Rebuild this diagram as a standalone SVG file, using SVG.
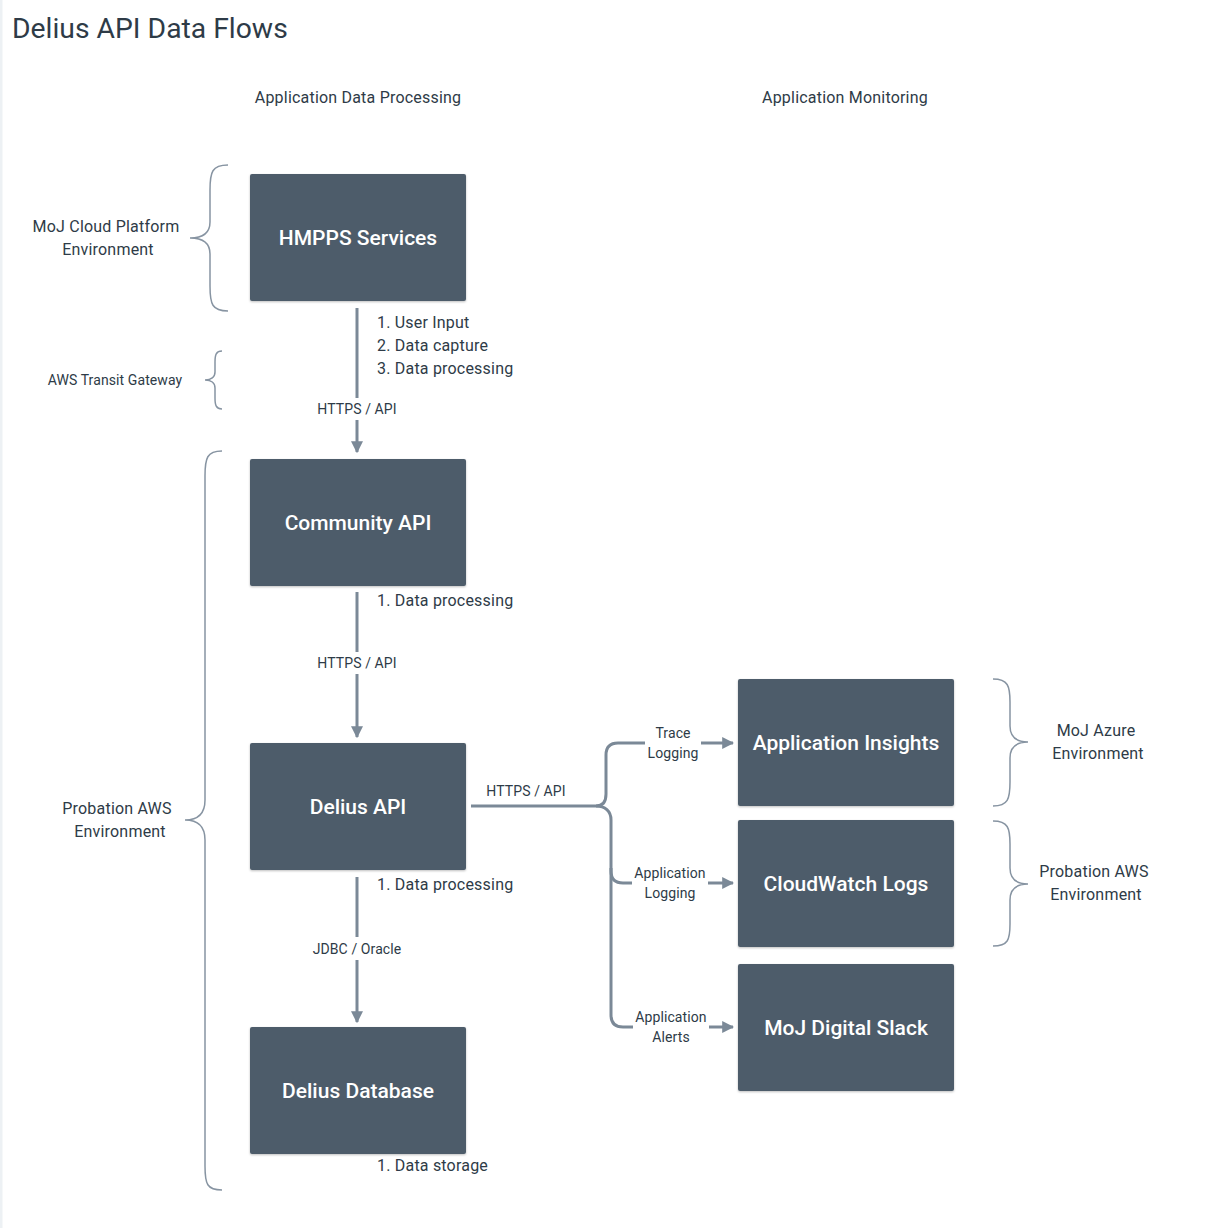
<svg xmlns="http://www.w3.org/2000/svg" width="1208" height="1228" viewBox="0 0 1208 1228">
<defs>
<style>
text{font-family:Roboto,"Liberation Sans",sans-serif;fill:#2e3b47}
.t{font-size:28.3px}
.h{font-size:16px;letter-spacing:0.2px;text-anchor:middle}
.l{font-size:16px;letter-spacing:0.2px}
.s{font-size:14px;letter-spacing:0.1px;text-anchor:middle}
.n rect{fill:#4d5b6a;filter:url(#sh)}
.n text{fill:#fff;font-size:21px;font-weight:500;text-anchor:middle}
.c{fill:none;stroke:#7b8997;stroke-width:3}
.b{fill:none;stroke:#8794a2;stroke-width:1.5}
</style>
<filter id="sh" x="-5%" y="-5%" width="110%" height="115%">
<feDropShadow dx="0" dy="1" stdDeviation="1.2" flood-color="#000" flood-opacity="0.25"/>
</filter>
<marker id="ar" viewBox="0 0 10 10" refX="9" refY="5" markerWidth="4" markerHeight="4" orient="auto" markerUnits="strokeWidth">
<path d="M0,0L10,5L0,10z" fill="#7b8997"/>
</marker>
</defs>
<rect width="1208" height="1228" fill="#fff"/>
<rect x="0" y="0" width="2.5" height="1228" fill="#edf1f4"/>
<text class="t" x="12" y="38">Delius API Data Flows</text>
<text class="h" x="358" y="103">Application Data Processing</text>
<text class="h" x="845" y="103">Application Monitoring</text>

<g id="braces">
<path class="b" d="M228,165 C212,165 210,172 210,190 L210,222 C210,232 204,238 190,238 C204,238 210,244 210,254 L210,286 C210,304 212,311 228,311"/>
<path class="b" d="M222,351 C216,351 215,355 215,362 L215,372 C215,377 211,380 205,380 C211,380 215,383 215,388 L215,398 C215,405 216,409 222,409"/>
<path class="b" d="M222,451 C207,451 205,458 205,476 L205,800 C205,812 199,820 185,820 C199,820 205,828 205,840 L205,1166 C205,1184 207,1190 222,1190"/>
<path class="b" d="M993,679 C1008,679 1010,686 1010,702 L1010,726 C1010,736 1016,742 1028,742 C1016,742 1010,748 1010,758 L1010,782 C1010,799 1008,806 993,806"/>
<path class="b" d="M993,821 C1008,821 1010,828 1010,844 L1010,868 C1010,878 1016,884 1028,884 C1016,884 1010,890 1010,900 L1010,924 C1010,940 1008,946 993,946"/>
</g>
<g id="brace-labels">
<text class="h" x="106" y="232">MoJ Cloud Platform</text>
<text class="h" x="108" y="255">Environment</text>
<text class="s" x="115" y="385">AWS Transit Gateway</text>
<text class="h" x="117" y="814">Probation AWS</text>
<text class="h" x="120" y="837">Environment</text>
<text class="h" x="1096" y="736">MoJ Azure</text>
<text class="h" x="1098" y="759">Environment</text>
<text class="h" x="1094" y="877">Probation AWS</text>
<text class="h" x="1096" y="900">Environment</text>
</g>

<g id="connectors">
<path class="c" d="M357,308 L357,398"/>
<path class="c" d="M357,420 L357,452" marker-end="url(#ar)"/>
<path class="c" d="M357,592 L357,652"/>
<path class="c" d="M357,674 L357,737" marker-end="url(#ar)"/>
<path class="c" d="M357,877 L357,937"/>
<path class="c" d="M357,960 L357,1022" marker-end="url(#ar)"/>
<path class="c" d="M471,806 L596,806 C603,806 606,801 606,794 L606,755 C606,747 610,743 618,743 L645,743"/>
<path class="c" d="M596,806 C605,806 611,811 611,820 L611,871 C611,879 615,883 623,883 L632,883"/>
<path class="c" d="M611,868 L611,1015 C611,1023 615,1027 623,1027 L633,1027"/>
<path class="c" d="M701,743 L733,743" marker-end="url(#ar)"/>
<path class="c" d="M708,883 L733,883" marker-end="url(#ar)"/>
<path class="c" d="M709,1027 L733,1027" marker-end="url(#ar)"/>
</g>
<g id="connector-labels">
<text class="s" x="357" y="414">HTTPS / API</text>
<text class="s" x="357" y="668">HTTPS / API</text>
<text class="s" x="357" y="954">JDBC / Oracle</text>
<text class="s" x="526" y="796">HTTPS / API</text>
<text class="s" x="673" y="738">Trace</text>
<text class="s" x="673" y="758">Logging</text>
<text class="s" x="670" y="878">Application</text>
<text class="s" x="670" y="898">Logging</text>
<text class="s" x="671" y="1022">Application</text>
<text class="s" x="671" y="1042">Alerts</text>
<text class="l" x="377" y="328">1. User Input</text>
<text class="l" x="377" y="351">2. Data capture</text>
<text class="l" x="377" y="374">3. Data processing</text>
<text class="l" x="377" y="606">1. Data processing</text>
<text class="l" x="377" y="890">1. Data processing</text>
<text class="l" x="377" y="1171">1. Data storage</text>
</g>

<g id="hmpps" class="n"><rect x="250" y="174" width="216" height="127" rx="2"/><text x="358" y="245">HMPPS Services</text></g>
<g id="community" class="n"><rect x="250" y="459" width="216" height="127" rx="2"/><text x="358" y="530">Community API</text></g>
<g id="delius-api" class="n"><rect x="250" y="743" width="216" height="127" rx="2"/><text x="358" y="814">Delius API</text></g>
<g id="delius-db" class="n"><rect x="250" y="1027" width="216" height="127" rx="2"/><text x="358" y="1098">Delius Database</text></g>
<g id="app-insights" class="n"><rect x="738" y="679" width="216" height="127" rx="2"/><text x="846" y="750">Application Insights</text></g>
<g id="cloudwatch" class="n"><rect x="738" y="820" width="216" height="127" rx="2"/><text x="846" y="891">CloudWatch Logs</text></g>
<g id="slack" class="n"><rect x="738" y="964" width="216" height="127" rx="2"/><text x="846" y="1035">MoJ Digital Slack</text></g>
</svg>
